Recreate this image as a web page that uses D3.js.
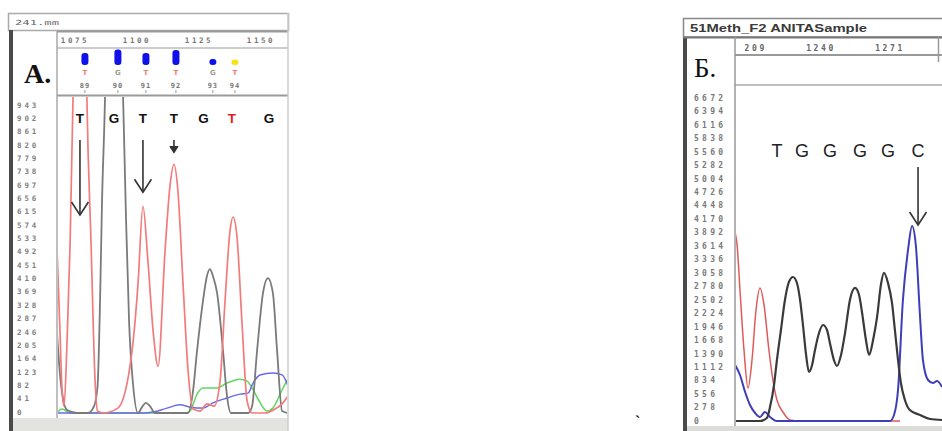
<!DOCTYPE html>
<html>
<head>
<meta charset="utf-8">
<script src="https://cdnjs.cloudflare.com/ajax/libs/d3/7.8.5/d3.min.js"></script>
<style>
body { margin: 0; background: #fff; }
svg { display: block; }
</style>
</head>
<body>
<script>
// ---------------- panel A data (scan position, signal) ----------------
var aRuler = [1075, 1100, 1125, 1150];
var aYTicks = [0, 41, 82, 123, 164, 205, 246, 287, 328, 369, 410, 451, 492, 533, 574, 615, 656, 697, 738, 779, 820, 861, 902, 943];
var aBaseNums = [89, 90, 91, 92, 93, 94];
var aBaseNumPos = [1079.0, 1092.3, 1103.6, 1115.7, 1130.6, 1139.5];
var aBaseNumCall = ['T', 'G', 'T', 'T', 'G', 'T'];
var aQuality = [40, 52, 40, 50, 20, 18];
var aCalls = ['T', 'G', 'T', 'T', 'G', 'T', 'G'];
var aCallPos = [1077.0, 1090.7, 1102.4, 1114.9, 1126.8, 1138.3, 1153.2];
var aArrowPos = [1077.0, 1102.4, 1114.9];
var aArrowTip = [605, 675, 798];

var aRed = [[1067.7, 513], [1068.8, 282], [1069.8, 68], [1070.6, 21], [1071.8, 221], [1073.0, 513],
    [1074.2, 967], [1075.2, 1500], [1077.0, 1800], [1078.8, 1500], [1079.8, 967], [1081.5, 513],
    [1083.1, 98], [1084.1, 6], [1086.3, 0], [1092.3, 15], [1098.0, 190], [1100.4, 396], [1102.4, 635],
    [1104.4, 467], [1106.5, 252], [1108.5, 144], [1111.3, 497], [1113.3, 697], [1114.9, 764],
    [1116.5, 682], [1118.5, 405], [1120.6, 129], [1122.6, 12], [1125.4, 6], [1128.2, 28], [1131.1, 21],
    [1133.5, 98], [1135.5, 344], [1137.5, 559], [1138.7, 602], [1140.3, 543], [1142.3, 282],
    [1144.4, 37], [1146.4, 0], [1151.6, 0], [1155.6, 12], [1158.5, 28], [1160.9, 52]];
var aGray = [[1067.7, 252], [1069.0, 114], [1070.2, 43], [1071.8, 9], [1075.8, 0], [1080.2, 0],
    [1082.7, 21], [1084.1, 83], [1085.1, 344], [1085.9, 651], [1087.1, 967], [1088.3, 1500],
    [1090.7, 1800], [1093.1, 1500], [1094.4, 967], [1095.6, 589], [1096.8, 282], [1098.4, 89],
    [1100.4, 0], [1102.0, 18], [1103.6, 31], [1105.2, 21], [1107.3, 0], [1120.6, 0], [1122.6, 68],
    [1124.2, 190], [1126.6, 344], [1128.2, 421], [1129.4, 442], [1130.6, 421], [1132.3, 368],
    [1134.7, 190], [1136.3, 52], [1137.9, 0], [1144.8, 0], [1146.4, 21], [1148.4, 190], [1150.8, 368],
    [1152.8, 414], [1154.8, 368], [1156.5, 190], [1158.5, 6], [1160.9, 0]];
var aGreen = [[1067.7, 0], [1069.8, 12], [1073.0, 0], [1119.4, 0], [1121.4, 6], [1124.2, 58],
    [1126.6, 77], [1132.3, 77], [1136.3, 92], [1141.5, 104], [1144.4, 98], [1146.4, 77], [1148.8, 43],
    [1152.4, 6], [1154.8, 15], [1157.7, 58], [1159.7, 89], [1160.9, 104]];
var aBlue = [[1067.7, 0], [1102.4, 0], [1106.5, 3], [1112.1, 15], [1117.3, 25], [1121.4, 18],
    [1126.6, 15], [1130.6, 31], [1136.3, 46], [1141.5, 58], [1144.8, 61], [1146.8, 92], [1149.6, 117],
    [1154.8, 123], [1158.5, 117], [1160.9, 83]];

// ---------------- panel B data ----------------
var bRuler = [1209, 1240, 1271];
var bYTicks = [0, 278, 556, 834, 1112, 1390, 1668, 1946, 2224, 2502, 2780, 3058, 3336, 3614, 3892,
    4170, 4448, 4726, 5004, 5282, 5560, 5838, 6116, 6394, 6672];
var bCalls = ['T', 'G', 'G', 'G', 'G', 'C'];
var bCallPos = [1220.2, 1231.5, 1244.0, 1257.5, 1270.1, 1283.6];
var bArrowPos = [1283.6];
var bArrowTip = [4049];

var bRed = [[1201.4, 3900], [1202.3, 3636], [1203.6, 2706], [1205.4, 1467], [1207.2, 682],
    [1209.0, 1260], [1210.8, 2293], [1212.6, 2748], [1214.4, 2397], [1216.6, 1467], [1218.4, 847],
    [1220.2, 434], [1222.9, 186], [1226.1, 21], [1230.6, 0], [1275.5, 0]];
var bBlue = [[1201.4, 1157], [1203.6, 950], [1205.9, 599], [1208.1, 330], [1210.4, 165],
    [1212.6, 83], [1214.8, 186], [1217.1, 83], [1220.2, 0], [1271.0, 0], [1272.8, 124], [1274.6, 640],
    [1276.8, 2500], [1279.1, 3533], [1280.9, 4029], [1282.6, 3636], [1284.5, 2149], [1285.8, 1260],
    [1288.1, 847], [1290.3, 785], [1292.1, 826], [1294.4, 702]];
var bBlack = [[1201.4, 0], [1212.6, 0], [1215.7, 62], [1217.1, 289], [1218.9, 744], [1220.2, 1260],
    [1222.0, 1880], [1223.8, 2500], [1225.6, 2872], [1227.4, 2975], [1229.2, 2851], [1230.6, 2500],
    [1231.9, 1983], [1233.3, 1364], [1234.6, 1012], [1236.0, 1157], [1237.3, 1467], [1239.1, 1818],
    [1240.9, 1983], [1242.7, 1880], [1244.0, 1611], [1245.8, 1260], [1247.2, 1136], [1249.0, 1364],
    [1250.8, 1818], [1253.0, 2500], [1255.3, 2748], [1257.1, 2603], [1258.4, 2252], [1260.2, 1673],
    [1261.6, 1364], [1263.4, 1673], [1265.2, 2149], [1266.9, 2810], [1268.3, 3058], [1270.1, 2851],
    [1271.9, 2438], [1273.2, 1880], [1274.6, 1260], [1275.9, 785], [1277.7, 434], [1279.9, 227],
    [1284.5, 124], [1289.0, 41], [1294.4, 21]];

var svg = d3.select('body')
    .append('svg')
    .attr('width', 942)
    .attr('height', 431);

var defs = svg.append('defs');

var tinyFont = 'DejaVu Sans Mono, monospace';

// draws a horizontal / vertical frame line
var hline = function (x1, x2, y, color, w) {
    svg.append('line').attr('x1', x1).attr('x2', x2).attr('y1', y).attr('y2', y)
        .style('stroke', color).style('stroke-width', w);
};
var vline = function (x, y1, y2, color, w) {
    svg.append('line').attr('x1', x).attr('x2', x).attr('y1', y1).attr('y2', y2)
        .style('stroke', color).style('stroke-width', w);
};

// arrow pointing down at a peak
var drawArrow = function (g, x, yTail, yTip) {
    var len = yTip - yTail;
    var head = Math.min(13, len * 0.5);
    var half = head * 0.65;
    g.append('line').attr('x1', x).attr('x2', x).attr('y1', yTail).attr('y2', yTip - 1)
        .style('stroke', '#333').style('stroke-width', 1.6);
    g.append('path')
        .attr('d', 'M' + (x - half) + ',' + (yTip - head) + 'L' + x + ',' + yTip + 'L' + (x + half) + ',' + (yTip - head))
        .style('fill', len < 20 ? '#333' : 'none')
        .style('stroke', '#333')
        .style('stroke-width', 1.6);
};

// ======================= PANEL A =======================
var ax = d3.scaleLinear().domain([1075, 1150]).range([75, 261]);
var ay = d3.scaleLinear().domain([0, 943]).range([412, 105]);

// window frame
svg.append('rect').attr('x', 8.5).attr('y', 13.5).attr('width', 280).attr('height', 17)
    .style('fill', '#fff').style('stroke', '#aaa').style('stroke-width', 1.5);
svg.append('text').attr('x', 15).attr('y', 25).text('241.mm')
    .style('font-family', tinyFont).style('font-size', '7px').style('fill', '#666')
    .attr('textLength', 44).attr('lengthAdjust', 'spacingAndGlyphs');
svg.append('rect').attr('x', 13).attr('y', 418).attr('width', 275).attr('height', 13).style('fill', '#e3e3df');
svg.append('rect').attr('x', 9).attr('y', 30).attr('width', 4).attr('height', 401).style('fill', '#4a4a4a');
hline(57, 288, 31.5, '#999', 2);
hline(57, 288, 48, '#bbb', 1.5);
hline(57, 288, 95.5, '#999', 2);
vline(57, 31, 418, '#aaa', 1.5);
vline(288, 13, 431, '#ccc', 1.5);

// panel label
svg.append('text').attr('x', 24).attr('y', 83).text('A.')
    .style('font-family', 'Liberation Serif, serif').style('font-size', '28px').style('font-weight', 'bold')
    .style('fill', '#111');

// ruler
svg.selectAll('.aRuler').data(aRuler).enter().append('text')
    .attr('x', function (d) { return ax(d); }).attr('y', 43)
    .attr('text-anchor', 'middle')
    .style('font-family', tinyFont).style('font-size', '7.5px').style('font-weight', 'bold')
    .style('letter-spacing', '2.6px').style('fill', '#777')
    .text(function (d) { return d; });

// quality bars above the base numbers
var aBars = svg.append('g');
aBaseNums.forEach(function (n, i) {
    var x = ax(aBaseNumPos[i]);
    var h = aQuality[i] * 0.3;
    aBars.append('rect').attr('x', x - 3.5).attr('y', 65 - h).attr('width', 7).attr('height', h)
        .attr('rx', 3).style('fill', aQuality[i] < 20 ? '#f4e21a' : '#1010e8');
    aBars.append('text').attr('x', x).attr('y', 75).attr('text-anchor', 'middle')
        .style('font-family', 'DejaVu Sans, sans-serif').style('font-size', '7px').style('font-weight', 'bold')
        .style('fill', aBaseNumCall[i] === 'T' ? '#f08080' : '#999').text(aBaseNumCall[i]);
    aBars.append('text').attr('x', x).attr('y', 88).attr('text-anchor', 'middle')
        .style('font-family', tinyFont).style('font-size', '7px').style('font-weight', 'bold')
        .style('letter-spacing', '1px').style('fill', '#777').text(n);
    aBars.append('line').attr('x1', x).attr('x2', x).attr('y1', 90).attr('y2', 93)
        .style('stroke', '#999').style('stroke-width', 1);
});

// y axis labels
svg.selectAll('.aY').data(aYTicks).enter().append('text')
    .attr('x', 17).attr('y', function (d) { return ay(d); }).attr('dy', '0.35em')
    .style('font-family', tinyFont).style('font-size', '7.5px').style('font-weight', 'bold')
    .style('letter-spacing', '2.9px').style('fill', '#808080')
    .text(function (d) { return d; });

// traces
defs.append('clipPath').attr('id', 'clipA').append('rect')
    .attr('x', 58).attr('y', 97).attr('width', 229).attr('height', 321);
var aLine = d3.line()
    .x(function (d) { return ax(d[0]); })
    .y(function (d) { return ay(d[1]) + 1; })
    .curve(d3.curveMonotoneX);
var aPlot = svg.append('g').attr('clip-path', 'url(#clipA)');
[[aGreen, '#5fd85f', 1.5], [aBlue, '#6a6ae8', 1.5], [aGray, '#7a7a7a', 1.8], [aRed, '#f27b7b', 1.7]]
    .forEach(function (t) {
        aPlot.append('path').attr('d', aLine(t[0]))
            .style('fill', 'none').style('stroke', t[1]).style('stroke-width', t[2])
            .style('stroke-linejoin', 'round');
    });

// called bases
svg.selectAll('.aCall').data(aCalls).enter().append('text')
    .attr('x', function (d, i) { return ax(aCallPos[i]); }).attr('y', 123)
    .attr('text-anchor', 'middle')
    .style('font-family', 'Liberation Sans, Arial, sans-serif').style('font-size', '13.5px')
    .style('font-weight', 'bold')
    .style('fill', function (d, i) { return i === 5 ? '#e41e1e' : '#111'; })
    .text(function (d) { return d; });

aArrowPos.forEach(function (p, i) {
    drawArrow(svg, ax(p), 140, ay(aArrowTip[i]));
});

// ======================= PANEL B =======================
var bx = d3.scaleLinear().domain([1240, 1271]).range([821, 890]);
var by = d3.scaleLinear().domain([0, 6672]).range([421, 98]);

svg.append('rect').attr('x', 683.5).attr('y', 18.5).attr('width', 262).attr('height', 18.5)
    .style('fill', '#fff').style('stroke', '#888').style('stroke-width', 1.5);
svg.append('text').attr('x', 690).attr('y', 32).text('51Meth_F2 ANITASample')
    .style('font-family', 'Liberation Sans, Arial, sans-serif').style('font-size', '11px').style('font-weight', 'bold')
    .style('fill', '#3a3a3a')
    .attr('textLength', 177).attr('lengthAdjust', 'spacingAndGlyphs');
svg.append('rect').attr('x', 687).attr('y', 426).attr('width', 255).attr('height', 5).style('fill', '#dcdcd8');
svg.append('rect').attr('x', 683).attr('y', 37).attr('width', 4).attr('height', 394).style('fill', '#4a4a4a');
hline(683, 942, 37.5, '#777', 2);
hline(735, 942, 55, '#999', 2);
hline(735, 942, 85, '#aaa', 1.5);
vline(735, 37, 426, '#999', 1.5);
vline(938.5, 37, 62, '#999', 1.5);

svg.append('text').attr('x', 694).attr('y', 77).text('Б.')
    .style('font-family', 'Liberation Serif, serif').style('font-size', '27px')
    .style('fill', '#111');

// ruler, clipped at the divider
defs.append('clipPath').attr('id', 'clipRulerB').append('rect')
    .attr('x', 742).attr('y', 38).attr('width', 200).attr('height', 16);
svg.append('g').attr('clip-path', 'url(#clipRulerB)')
    .selectAll('text').data(bRuler).enter().append('text')
    .attr('x', function (d) { return bx(d); }).attr('y', 51)
    .attr('text-anchor', 'middle')
    .style('font-family', tinyFont).style('font-size', '8px').style('font-weight', 'bold')
    .style('letter-spacing', '2.6px').style('fill', '#666')
    .text(function (d) { return d; });

svg.selectAll('.bY').data(bYTicks).enter().append('text')
    .attr('x', 694).attr('y', function (d) { return by(d); }).attr('dy', '0.35em')
    .style('font-family', tinyFont).style('font-size', '8px').style('font-weight', 'bold')
    .style('letter-spacing', '3.3px').style('fill', '#7a7a7a')
    .text(function (d) { return d; });

defs.append('clipPath').attr('id', 'clipB').append('rect')
    .attr('x', 736).attr('y', 86).attr('width', 206).attr('height', 340);
var bLine = d3.line()
    .x(function (d) { return bx(d[0]); })
    .y(function (d) { return by(d[1]); })
    .curve(d3.curveMonotoneX);
var bPlot = svg.append('g').attr('clip-path', 'url(#clipB)');
[[bRed, '#e05a5a', 1.5], [bBlue, '#3e3eb8', 2], [bBlack, '#3a3a3a', 2.2]]
    .forEach(function (t) {
        bPlot.append('path').attr('d', bLine(t[0]))
            .style('fill', 'none').style('stroke', t[1]).style('stroke-width', t[2])
            .style('stroke-linejoin', 'round');
    });

svg.selectAll('.bCall').data(bCalls).enter().append('text')
    .attr('x', function (d, i) { return bx(bCallPos[i]); }).attr('y', 157)
    .attr('text-anchor', 'middle')
    .style('font-family', 'Liberation Sans, Arial, sans-serif').style('font-size', '18px')
    .style('fill', '#222')
    .text(function (d) { return d; });

bArrowPos.forEach(function (p, i) {
    drawArrow(svg, bx(p), 167, by(bArrowTip[i]));
});

// stray mark between the panels
svg.append('text').attr('x', 635).attr('y', 427).text('`')
    .style('font-family', 'Liberation Serif, serif').style('font-size', '16px').style('font-weight', 'bold')
    .style('fill', '#111');
</script>
</body>
</html>
